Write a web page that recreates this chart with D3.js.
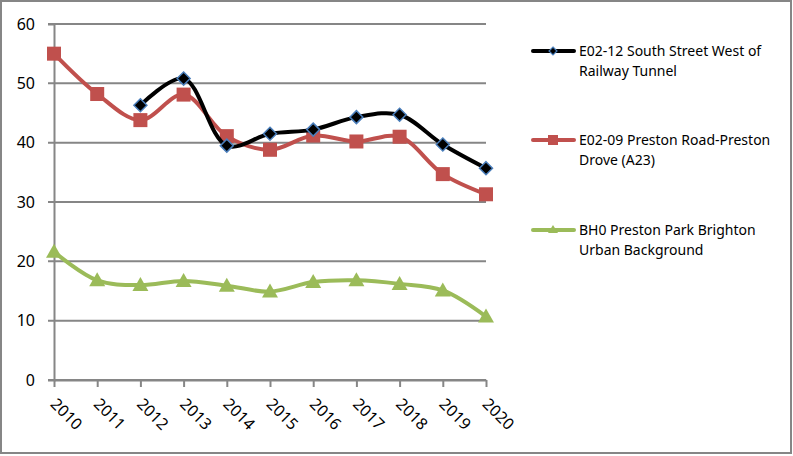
<!DOCTYPE html>
<html>
<head>
<meta charset="utf-8">
<script src="https://cdn.jsdelivr.net/npm/d3@7"></script>
<style>
  body { margin: 0; background: #fff; }
  svg { display: block; }
</style>
</head>
<body>
<div id="chart"></div>
<script>
var width = 793,
    height = 456;

var years = [2010, 2011, 2012, 2013, 2014, 2015, 2016, 2017, 2018, 2019, 2020];
var southStreet = [null, null, 46.3, 50.8, 39.5, 41.5, 42.2, 44.3, 44.7, 39.7, 35.7];
var prestonRoad = [55.0, 48.2, 43.8, 48.1, 41.1, 38.8, 41.2, 40.2, 41.0, 34.7, 31.3];
var prestonPark = [21.6, 16.8, 16.0, 16.7, 15.9, 14.9, 16.5, 16.8, 16.2, 15.1, 10.7];
var yTicks = [0, 10, 20, 30, 40, 50, 60];

var seriesNames = [
  ["E02-12 South Street West of", "Railway Tunnel"],
  ["E02-09 Preston Road-Preston", "Drove (A23)"],
  ["BH0 Preston Park Brighton", "Urban Background"]
];

var font = "'Noto Sans', 'Open Sans', sans-serif";
var margin = ({top: 24, right: 307, bottom: 76, left: 54});

var svg = d3.select("#chart").append("svg")
    .attr("width", width)
    .attr("height", height)
    .style("font-family", font);

// outer chart border
svg.append("rect")
    .attr("x", 1)
    .attr("y", 1)
    .attr("width", width - 3)
    .attr("height", height - 4)
    .attr("fill", "#fff")
    .attr("stroke", "#868686")
    .attr("stroke-width", 2);

var x = d3.scalePoint()
    .domain(years)
    .range([margin.left, width - margin.right]);

var y = d3.scaleLinear()
    .domain([0, 60])
    .range([height - margin.bottom, margin.top]);

// gridlines
svg.append("g")
    .selectAll("line")
    .data(yTicks)
    .join("line")
    .attr("x1", margin.left - 6)
    .attr("x2", width - margin.right)
    .attr("y1", d => y(d))
    .attr("y2", d => y(d))
    .attr("stroke", "#868686")
    .attr("stroke-width", 2);

var yAxis = g => g
    .attr("transform", `translate(${margin.left},0)`)
    .call(d3.axisLeft(y).tickValues(yTicks).tickSize(6).tickPadding(13))
    .call(g => g.select(".domain").attr("stroke", "#868686").attr("stroke-width", 2))
    .call(g => g.selectAll(".tick line").remove())
    .call(g => g.selectAll(".tick text")
        .attr("fill", "#000")
        .attr("font-size", "16px")
        .attr("font-family", font));

var xAxis = g => g
    .attr("transform", `translate(0,${height - margin.bottom})`)
    .call(d3.axisBottom(x).tickSize(7).tickSizeOuter(0))
    .call(g => g.select(".domain").attr("stroke", "#868686").attr("stroke-width", 2))
    .call(g => g.selectAll(".tick line").attr("stroke", "#868686").attr("stroke-width", 2))
    .call(g => g.selectAll(".tick text")
        .attr("fill", "#000")
        .attr("font-size", "16px")
        .attr("font-family", font)
        .attr("text-anchor", "start")
        .attr("dy", null)
        .attr("y", 0)
        .attr("transform", "translate(-5,25) rotate(45)"));

svg.append("g").call(yAxis);
svg.append("g").call(xAxis);

var line = d3.line()
    .defined(d => d.v != null)
    .x(d => x(d.year))
    .y(d => y(d.v))
    .curve(d3.curveCatmullRom.alpha(0.5));

function toPoints(values) {
  return years.map((yr, i) => ({year: yr, v: values[i]})).filter(d => d.v != null);
}

var series = [
  {values: southStreet, color: "#000000", marker: "diamond"},
  {values: prestonRoad, color: "#c0504d", marker: "square"},
  {values: prestonPark, color: "#9bbb59", marker: "triangle"}
];

function drawMarker(g, type, color, cx, cy) {
  if (type === "diamond") {
    g.append("path")
      .attr("d", `M${cx},${cy - 6.5}L${cx + 6.5},${cy}L${cx},${cy + 6.5}L${cx - 6.5},${cy}Z`)
      .attr("fill", "#000")
      .attr("stroke", "#4a7ebb")
      .attr("stroke-width", 1.5);
  } else if (type === "square") {
    g.append("rect")
      .attr("x", cx - 7)
      .attr("y", cy - 7)
      .attr("width", 14)
      .attr("height", 14)
      .attr("fill", color);
  } else {
    g.append("path")
      .attr("d", `M${cx},${cy - 8}L${cx + 8},${cy + 6}L${cx - 8},${cy + 6}Z`)
      .attr("fill", color);
  }
}

// draw the lower series first so black sits on top like the original
[2, 1, 0].forEach(function(i) {
  var s = series[i];
  var pts = toPoints(s.values);
  svg.append("path")
      .datum(pts)
      .attr("fill", "none")
      .attr("stroke", s.color)
      .attr("stroke-width", 4)
      .attr("stroke-linejoin", "round")
      .attr("stroke-linecap", "round")
      .attr("d", line);
  var mg = svg.append("g");
  pts.forEach(d => drawMarker(mg, s.marker, s.color, x(d.year), y(d.v)));
});

// legend
var legendY = [51, 140, 230];
series.forEach(function(s, i) {
  var lg = svg.append("g").attr("transform", `translate(0,${legendY[i]})`);
  lg.append("line")
    .attr("x1", 533)
    .attr("x2", 574)
    .attr("y1", 0)
    .attr("y2", 0)
    .attr("stroke", s.color)
    .attr("stroke-width", 4)
    .attr("stroke-linecap", "round");
  if (s.marker === "diamond") {
    lg.append("path")
      .attr("d", "M553,-4L557,0L553,4L549,0Z")
      .attr("fill", "#000")
      .attr("stroke", "#4a7ebb")
      .attr("stroke-width", 1.2);
  } else if (s.marker === "square") {
    lg.append("rect")
      .attr("x", 548).attr("y", -5).attr("width", 10).attr("height", 10)
      .attr("fill", s.color);
  } else {
    lg.append("path")
      .attr("d", "M553,-5L558,3L548,3Z")
      .attr("fill", s.color);
  }
  lg.append("text")
    .attr("x", 579)
    .attr("y", 5)
    .attr("font-size", "14px")
    .attr("fill", "#000")
    .text(seriesNames[i][0]);
  lg.append("text")
    .attr("x", 579)
    .attr("y", 25)
    .attr("font-size", "14px")
    .attr("fill", "#000")
    .text(seriesNames[i][1]);
});
</script>
</body>
</html>
